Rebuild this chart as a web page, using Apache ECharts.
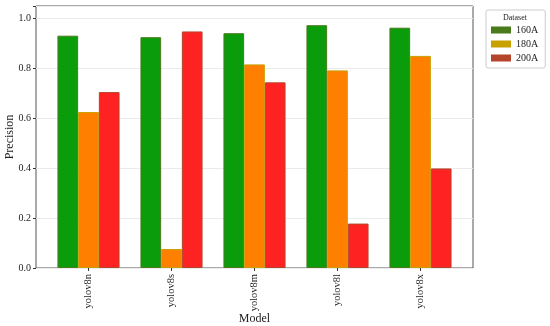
<!DOCTYPE html>
<html><head><meta charset="utf-8">
<script src="https://cdn.jsdelivr.net/npm/echarts@6/dist/echarts.min.js"></script>
<style>html,body{margin:0;padding:0;background:#fff}#c{width:550px;height:326px}</style>
</head><body><div id="c"></div>
<script>
var categories = ['yolov8n','yolov8s','yolov8m','yolov8l','yolov8x'];
var seriesNames = ['160A','180A','200A'];
var v160 = [0.931, 0.925, 0.941, 0.973, 0.963];
var v180 = [0.625, 0.076, 0.816, 0.792, 0.850];
var v200 = [0.705, 0.948, 0.744, 0.178, 0.399];
var yTicks = [0, 0.2, 0.4, 0.6, 0.8, 1.0];

var fills = ['#0a9c0a', '#ff8000', '#ff2222'];
var edges = ['#4a7a1c', '#c8a000', '#b5452a'];
var font = 'Liberation Serif';
var values = [v160, v180, v200];

var chart = echarts.init(document.getElementById('c'), null, {renderer:'canvas'});
chart.setOption({
  animation: false,
  title: {text: 'Dataset', left: 503, top: 14, padding: 0, textStyle: {fontFamily: font, fontSize: 8, fontWeight: 'normal', color: '#222'}},
  legend: {
    orient: 'vertical', left: 486, top: 10, padding: [15, 7, 5, 5],
    borderColor: '#ccc', borderWidth: 1, borderRadius: 2,
    itemWidth: 20, itemHeight: 7, itemGap: 4,
    textStyle: {fontFamily: font, fontSize: 10, color: '#222'},
    data: seriesNames.map(function(n, i){ return {name: n, icon: 'rect', itemStyle: {color: edges[i], borderWidth: 0}}; })
  },
  grid: [
    {left: 36, right: 77, top: 6, bottom: 58, show: true, borderColor: '#555', borderWidth: 1, backgroundColor: 'transparent', outerBoundsMode: 'none', containLabel: false},
    {left: 47, right: 88, top: 6, bottom: 58, outerBoundsMode: 'none', containLabel: false}
  ],
  xAxis: [
    {type: 'value', gridIndex: 0, min: 0, max: 1, show: false},
    {type: 'category', gridIndex: 1, data: categories,
     axisLine: {show: false},
     axisTick: {show: true, alignWithLabel: true, length: 3, lineStyle: {color: '#333'}},
     axisLabel: {rotate: 90, fontFamily: font, fontSize: 10.5, color: '#222', margin: 6},
     name: 'Model', nameLocation: 'middle', nameGap: 45, nameMoveOverlap: false,
     nameTextStyle: {fontFamily: font, fontSize: 12, color: '#222'}}
  ],
  yAxis: [
    {type: 'value', gridIndex: 0, min: 0, max: 1.05, interval: 0.2,
     axisLine: {show: false},
     axisTick: {show: true, length: 3, lineStyle: {color: '#333'}},
     axisLabel: {fontFamily: font, fontSize: 10, color: '#222', margin: 5,
       formatter: function(v){ for (var i=0;i<yTicks.length;i++){ if (Math.abs(v - yTicks[i]) < 1e-6) return yTicks[i].toFixed(1);} return ''; }},
     splitLine: {show: true, lineStyle: {color: '#ebebeb', width: 1}},
     name: 'Precision', nameLocation: 'middle', nameGap: 20, nameMoveOverlap: false,
     nameTextStyle: {fontFamily: font, fontSize: 12, color: '#222'}},
    {type: 'value', gridIndex: 1, min: 0, max: 1.05, show: false}
  ],
  series: seriesNames.map(function(n, i){
    return {name: n, type: 'bar', xAxisIndex: 1, yAxisIndex: 1, data: values[i],
      barWidth: 20.7, barGap: '0%',
      itemStyle: {color: fills[i], borderColor: edges[i], borderWidth: 1}};
  })
});
</script></body></html>
